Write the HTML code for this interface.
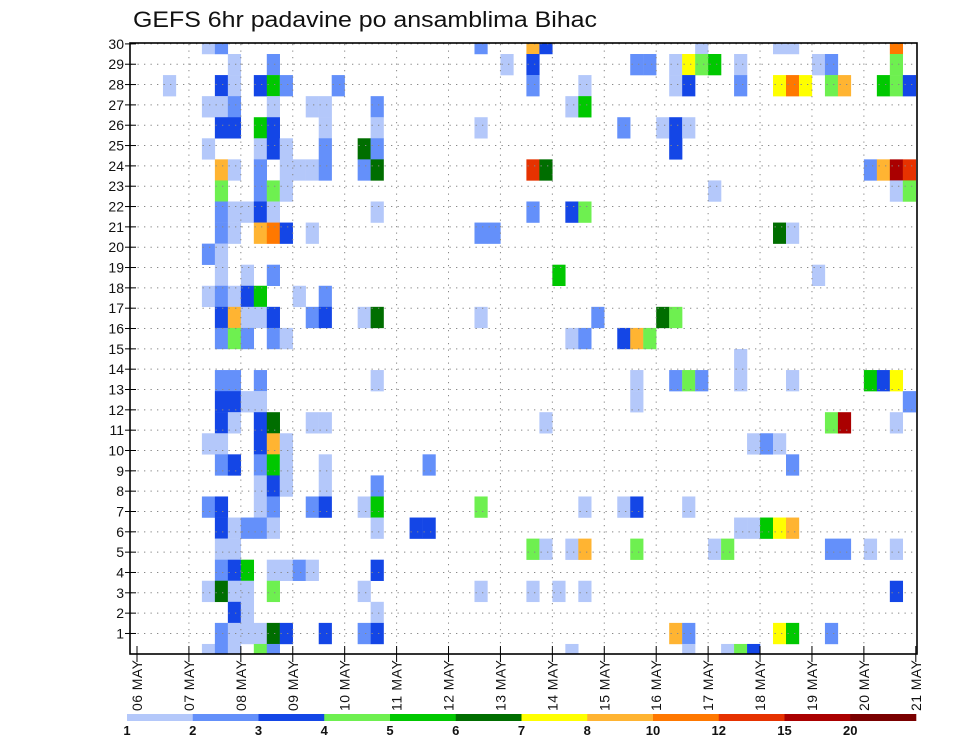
<!DOCTYPE html>
<html><head><meta charset="utf-8">
<style>
html,body{margin:0;padding:0;background:#fff;}
svg{display:block;font-family:"Liberation Sans",sans-serif;}
</style></head>
<body>
<svg id="chart" width="960" height="742" viewBox="0 0 960 742" xmlns="http://www.w3.org/2000/svg">
  <defs><clipPath id="plotclip"><rect x="130" y="43" width="787" height="611"/></clipPath></defs>
  <text x="133" y="27" font-size="22" textLength="464" lengthAdjust="spacingAndGlyphs" fill="#111">GEFS 6hr padavine po ansamblima Bihac</text>
  <g id="cells" clip-path="url(#plotclip)"></g>
  <g id="grid"></g>
  <rect x="130" y="43" width="787" height="611" fill="none" stroke="#000" stroke-width="1.6"/>
  <g id="yaxis"></g>
  <g id="xaxis"></g>
  <g id="colorbar"></g>
</svg>
<script>
const dayLabels = ['06','07','08','09','10','11','12','13','14','15','16','17','18','19','20','21'];
const yTickLabels = [1,2,3,4,5,6,7,8,9,10,11,12,13,14,15,16,17,18,19,20,21,22,23,24,25,26,27,28,29,30];
const legendLabels = ['1','2','3','4','5','6','7','8','10','12','15','20'];
const members = [30,29,28,27,26,25,24,23,22,21,20,19,18,17,16,15,14,13,12,11,10,9,8,7,6,5,4,3,2,1];
// per member row (top to bottom): "timestep:level" pairs, level = colour class 1..12
const cellData = [
"5:1,6:2,26:2,30:8,31:3,43:1,49:1,50:1,58:9",
"7:1,10:2,28:1,30:3,38:2,39:2,41:1,42:7,43:4,44:5,46:1,52:1,53:2,58:4",
"2:1,6:3,7:1,9:3,10:5,11:2,15:2,30:2,34:1,41:1,42:3,46:2,49:7,50:9,51:7,53:4,54:8,57:5,58:4,59:3",
"5:1,6:1,7:2,10:1,13:1,14:1,18:2,33:1,34:5",
"6:3,7:3,9:5,10:3,14:1,18:1,26:1,37:2,40:1,41:3,42:1",
"5:1,9:1,10:3,11:1,14:2,17:6,18:2,41:3",
"6:8,7:1,9:2,11:1,12:1,13:1,14:2,17:2,18:6,30:10,31:6,56:2,57:8,58:11,59:10",
"6:4,9:2,10:4,11:1,44:1,58:1,59:4",
"6:2,7:1,8:1,9:3,10:1,18:1,30:2,33:3,34:4",
"6:2,7:1,9:8,10:9,11:3,13:1,26:2,27:2,49:6,50:1",
"5:2,6:1",
"6:1,8:1,10:2,32:5,52:1",
"5:1,6:2,7:1,8:3,9:5,12:1,14:2",
"6:3,7:8,8:1,9:1,10:3,13:2,14:3,17:1,18:6,26:1,35:2,40:6,41:4",
"6:2,7:4,8:2,10:2,11:1,33:1,34:2,37:3,38:8,39:4",
"46:1",
"6:2,7:2,9:2,18:1,38:1,41:2,42:4,43:2,46:1,50:1,56:5,57:3,58:7",
"6:3,7:3,8:1,9:1,38:1,59:2",
"6:3,7:1,9:3,10:6,13:1,14:1,31:1,53:4,54:11,58:1",
"5:1,6:1,9:3,10:8,11:1,47:1,48:2,49:1",
"6:2,7:3,9:2,10:5,11:1,14:1,22:2,50:2",
"9:1,10:3,11:1,14:1,18:2",
"5:2,6:3,9:1,10:2,13:2,14:3,17:1,18:5,26:4,34:1,37:1,38:3,42:1",
"6:3,7:1,8:2,9:2,10:1,18:1,21:3,22:3,46:1,47:1,48:5,49:7,50:8",
"6:1,7:1,30:4,31:1,33:1,34:8,38:4,44:1,45:4,53:2,54:2,56:1,58:1",
"6:2,7:3,8:5,10:1,11:1,12:2,13:1,18:3",
"5:1,6:6,7:1,8:1,10:4,17:1,26:1,30:1,32:1,34:1,58:3",
"7:3,8:1,18:1",
"6:2,7:1,8:1,9:1,10:6,11:3,14:3,17:2,18:3,41:8,42:2,49:7,50:5,53:2",
"5:1,6:2,7:1,9:4,10:2,33:1,42:1,45:1,46:4,47:3"
];

const colors = ['#b4c8fa','#6490fa','#1446e6','#6ef050','#00c800','#006e00','#ffff00','#ffb432','#ff7800','#e63200','#aa0000','#7a0000'];
const NS = 'http://www.w3.org/2000/svg';
const X0 = 137, STEP = 12.98, DAY = STEP * 4;
function xStep(c){ return X0 + c * STEP; }
function xDay(d){ return X0 + d * DAY; }
function yBand(k){ return 54 + (k - 1) * 21.07; }
function yTick(v){ return 653.8 - v * 20.33; }
function mk(tag, attrs){ const e = document.createElementNS(NS, tag); for (const k in attrs) e.setAttribute(k, attrs[k]); return e; }

const cellsG = document.getElementById('cells');
cellData.forEach((row, k) => {
  if (!row) return;
  row.split(',').forEach(p => {
    const [c, lv] = p.split(':').map(Number);
    const r = mk('rect', {x: xStep(c), y: yBand(k), width: STEP + 0.2, height: 21.3, fill: colors[lv - 1]});
    
    
    cellsG.appendChild(r);
  });
});

const grid = document.getElementById('grid');
yTickLabels.forEach(v => {
  const l = mk('line', {x1: 131, x2: 916, y1: yTick(v), y2: yTick(v), stroke: '#888', 'stroke-width': 1, 'stroke-dasharray': '1.3 5.2'});
  
  
  grid.appendChild(l);
});
dayLabels.forEach((d, i) => {
  if (i === 0 || i === dayLabels.length - 1) return;
  const l = mk('line', {x1: xDay(i), x2: xDay(i), y1: 44, y2: 653, stroke: '#888', 'stroke-width': 1, 'stroke-dasharray': '1.3 5.2'});
  
  
  grid.appendChild(l);
});

const yax = document.getElementById('yaxis');
yTickLabels.forEach(v => {
  const t = mk('line', {x1: 125, x2: 136, y1: yTick(v), y2: yTick(v), stroke: '#000', 'stroke-width': 1});
  
  
  yax.appendChild(t);
  const tx = mk('text', {x: 124, y: yTick(v) + 5, 'font-size': 14, 'text-anchor': 'end', fill: '#111'});
  tx.textContent = v;
  
  
  yax.appendChild(tx);
});

const xax = document.getElementById('xaxis');
dayLabels.forEach((d, i) => {
  const x = xDay(i);
  const t = mk('line', {x1: x, x2: x, y1: 646, y2: 662, stroke: '#000', 'stroke-width': 1});
  
  
  xax.appendChild(t);
  const tx = mk('text', {transform: 'translate(' + (x + 5) + ',711) rotate(-90)', 'font-size': 14, fill: '#111', textLength: 51, lengthAdjust: 'spacing'});
  tx.setAttribute('xml:space', 'preserve');
  tx.textContent = d + '  MAY';
  
  
  xax.appendChild(tx);
});

const cb = document.getElementById('colorbar');
const CB0 = 127, CBW = 65.75;
colors.forEach((c, i) => {
  const r = mk('rect', {x: CB0 + i * CBW, y: 714, width: CBW + 0.3, height: 7, fill: c});
  
  
  cb.appendChild(r);
});
legendLabels.forEach((lab, i) => {
  const t = mk('text', {x: CB0 + i * CBW, y: 735, 'font-size': 13, 'font-weight': 'bold', 'text-anchor': 'middle', fill: '#111'});
  t.textContent = lab;
  
  
  cb.appendChild(t);
});
</script>
</body></html>
